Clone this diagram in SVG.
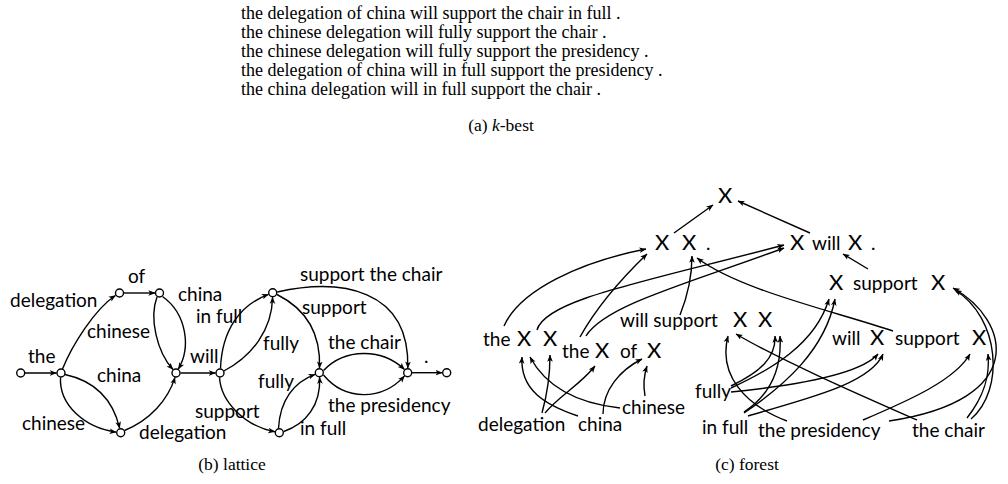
<svg xmlns="http://www.w3.org/2000/svg" width="1008" height="484" viewBox="0 0 1008 484">
<style>
.s{font-family:"Liberation Serif",serif;font-size:18px;fill:#000}
.c{font-family:"Liberation Serif",serif;font-size:17.5px;fill:#000;text-anchor:middle}
.l{font-family:Lato,"DejaVu Sans",sans-serif;font-size:19px;fill:#000}
.x{font-family:Lato,"DejaVu Sans",sans-serif;font-size:22px;fill:#000}
.e{fill:none;stroke:#000;stroke-width:1.4;marker-end:url(#ah)}
.n{fill:#fff;stroke:#000;stroke-width:1.4}
</style>
<defs>
<marker id="ah" viewBox="0 0 10 10" refX="9.5" refY="5" markerWidth="7" markerHeight="7" markerUnits="userSpaceOnUse" orient="auto">
<path d="M0,1 L10,5 L0,9 L2.5,5 z" fill="#000"/>
</marker>
</defs>
<rect width="1008" height="484" fill="#fff"/>

<g id="kbest">
<text class="s" x="241" y="19">the delegation of china will support the chair in full .</text>
<text class="s" x="241" y="38">the chinese delegation will fully support the chair .</text>
<text class="s" x="241" y="57">the chinese delegation will fully support the presidency .</text>
<text class="s" x="241" y="76">the delegation of china will in full support the presidency .</text>
<text class="s" x="241" y="95">the china delegation will in full support the chair .</text>
<text class="c" x="501" y="131">(a) <tspan font-style="italic">k</tspan>-best</text>
</g>

<g id="lattice-edges">
<path class="e" d="M24.7,373 L56.5,373"/>
<path class="e" d="M62.5,369 C72,345 95,309 115.5,295.5"/>
<path class="e" d="M123.5,293 L155,293"/>
<path class="e" d="M157,297 C149,318 157,352 173,369.5"/>
<path class="e" d="M162.5,296.5 C187,314 191,348 178.3,369.1"/>
<path class="e" d="M65,374.5 C95,381 113,400 119.7,428.3"/>
<path class="e" d="M60.5,377.5 C59,405 85,428 116.2,432.1"/>
<path class="e" d="M124.5,430.5 C150,420 168,400 175,377.4"/>
<path class="e" d="M180.5,373 L215.5,373"/>
<path class="e" d="M220.5,368.5 C222,330 240,305 268.5,294.3"/>
<path class="e" d="M223.8,371 C252,356 272,330 272.6,297.2"/>
<path class="e" d="M219.5,377.5 C221,402 245,426 274.9,431.8"/>
<path class="e" d="M278.5,428.3 C280,400 294,382 315.1,374.3"/>
<path class="e" d="M283.8,431.5 C306,424 321,405 319.6,377.2"/>
<path class="e" d="M277,294.5 C306,309 321,332 319.5,368.2"/>
<path class="e" d="M277.2,292 C340,278 410,288 407.8,368.2"/>
<path class="e" d="M323.5,370.5 C345,348 382,348 404.5,369.5"/>
<path class="e" d="M323.5,375 C345,401 382,401 404.5,375.9"/>
<path class="e" d="M412.2,372.7 L442.2,372.7"/>
</g>

<g id="lattice-nodes">
<circle class="n" cx="20.7" cy="373" r="4"/>
<circle class="n" cx="61" cy="373" r="4"/>
<circle class="n" cx="119.5" cy="293" r="4"/>
<circle class="n" cx="159.5" cy="293" r="4"/>
<circle class="n" cx="176" cy="373" r="4"/>
<circle class="n" cx="220" cy="373" r="4"/>
<circle class="n" cx="120.7" cy="432.7" r="4"/>
<circle class="n" cx="272.7" cy="292.7" r="4"/>
<circle class="n" cx="319.3" cy="372.7" r="4"/>
<circle class="n" cx="279.3" cy="432.7" r="4"/>
<circle class="n" cx="407.7" cy="372.7" r="4"/>
<circle class="n" cx="446.7" cy="372.7" r="4"/>
</g>

<g id="lattice-labels">
<text class="l" x="28" y="363">the</text>
<text class="l" x="10" y="307">delegation</text>
<text class="l" x="128" y="283">of</text>
<text class="l" x="87" y="338">chinese</text>
<text class="l" x="178" y="301">china</text>
<text class="l" x="196" y="323">in full</text>
<text class="l" x="190" y="363">will</text>
<text class="l" x="97" y="382">china</text>
<text class="l" x="22" y="430">chinese</text>
<text class="l" x="139" y="439">delegation</text>
<text class="l" x="195" y="418">support</text>
<text class="l" x="300" y="281">support the chair</text>
<text class="l" x="302" y="314">support</text>
<text class="l" x="263" y="350">fully</text>
<text class="l" x="328" y="349">the chair</text>
<text class="l" x="258" y="388">fully</text>
<text class="l" x="300" y="435">in full</text>
<text class="l" x="328" y="412">the presidency</text>
<text class="l" x="424" y="363">.</text>
<text class="c" x="232" y="470">(b) lattice</text>
</g>

<g id="forest-edges">
<path class="e" d="M674,233 L713,205"/>
<path class="e" d="M810,233 L738,201"/>
<path class="e" d="M868,269 L843,254"/>
<path class="e" d="M504,326 C520,290 580,262 646,249"/>
<path class="e" d="M580,337 C595,310 620,280 647,254"/>
<path class="e" d="M680,315 C688,295 692,275 692,256"/>
<path class="e" d="M893,331 C830,310 740,290 697,258"/>
<path class="e" d="M537,330 C545,300 640,283 784,245"/>
<path class="e" d="M586,336 C605,305 690,283 784,248"/>
<path class="e" d="M578,416 C545,405 520,390 522,357"/>
<path class="e" d="M620,408 C575,403 545,385 530,357"/>
<path class="e" d="M542,413 C547,395 550,375 550,355"/>
<path class="e" d="M545,413 C560,395 580,385 595,366"/>
<path class="e" d="M603,414 C603,390 620,370 642,359"/>
<path class="e" d="M645,396 C643,385 644,375 647,366"/>
<path class="e" d="M787,421 C745,405 718,375 728,336"/>
<path class="e" d="M917,420 C860,395 780,360 736,334"/>
<path class="e" d="M731,386 C760,372 776,358 775,336"/>
<path class="e" d="M744,412 C770,395 782,370 780,336"/>
<path class="e" d="M731,388 C770,370 815,345 829,299"/>
<path class="e" d="M744,413 C785,385 825,350 835,299"/>
<path class="e" d="M731,392 C790,386 860,375 878,354"/>
<path class="e" d="M748,416 C800,400 870,385 883,354"/>
<path class="e" d="M863,420 C910,400 955,380 970,354"/>
<path class="e" d="M967,418 C985,395 990,375 988,354"/>
<path class="e" d="M889,421 C1030,400 1010,320 953,288"/>
<path class="e" d="M971,419 C1005,390 1000,318 955,290"/>
</g>

<g id="f-top"><text class="x" x="718" y="203">X</text></g>
<g id="f-xx"><text class="x" x="655" y="250">X</text><text class="x" x="682" y="250">X</text><text class="l" x="706" y="250">.</text></g>
<g id="f-xwillx"><text class="x" x="790" y="250">X</text><text class="l" x="812" y="250">will</text><text class="x" x="848" y="250">X</text><text class="l" x="871" y="250">.</text></g>
<g id="f-xsupx"><text class="x" x="829" y="290">X</text><text class="l" x="853" y="290">support</text><text class="x" x="931" y="290">X</text></g>
<g id="f-willsupxx"><text class="l" x="620" y="327">will support</text><text class="x" x="733" y="327">X</text><text class="x" x="758" y="327">X</text></g>
<g id="f-thexx"><text class="l" x="483" y="346">the</text><text class="x" x="517" y="346">X</text><text class="x" x="543" y="346">X</text></g>
<g id="f-thexofx"><text class="l" x="562" y="358">the</text><text class="x" x="595" y="358">X</text><text class="l" x="620" y="358">of</text><text class="x" x="647" y="358">X</text></g>
<g id="f-willxsupx"><text class="l" x="832" y="345">will</text><text class="x" x="870" y="345">X</text><text class="l" x="895" y="345">support</text><text class="x" x="972" y="345">X</text></g>
<g id="f-delegation"><text class="l" x="478" y="431">delegation</text></g>
<g id="f-china"><text class="l" x="578" y="431">china</text></g>
<g id="f-chinese"><text class="l" x="622" y="414">chinese</text></g>
<g id="f-fully"><text class="l" x="695" y="398">fully</text></g>
<g id="f-infull"><text class="l" x="702" y="434">in full</text></g>
<g id="f-presidency"><text class="l" x="758" y="437">the presidency</text></g>
<g id="f-chair"><text class="l" x="912" y="437">the chair</text></g>
<text class="c" x="747" y="470">(c) forest</text>
</svg>
